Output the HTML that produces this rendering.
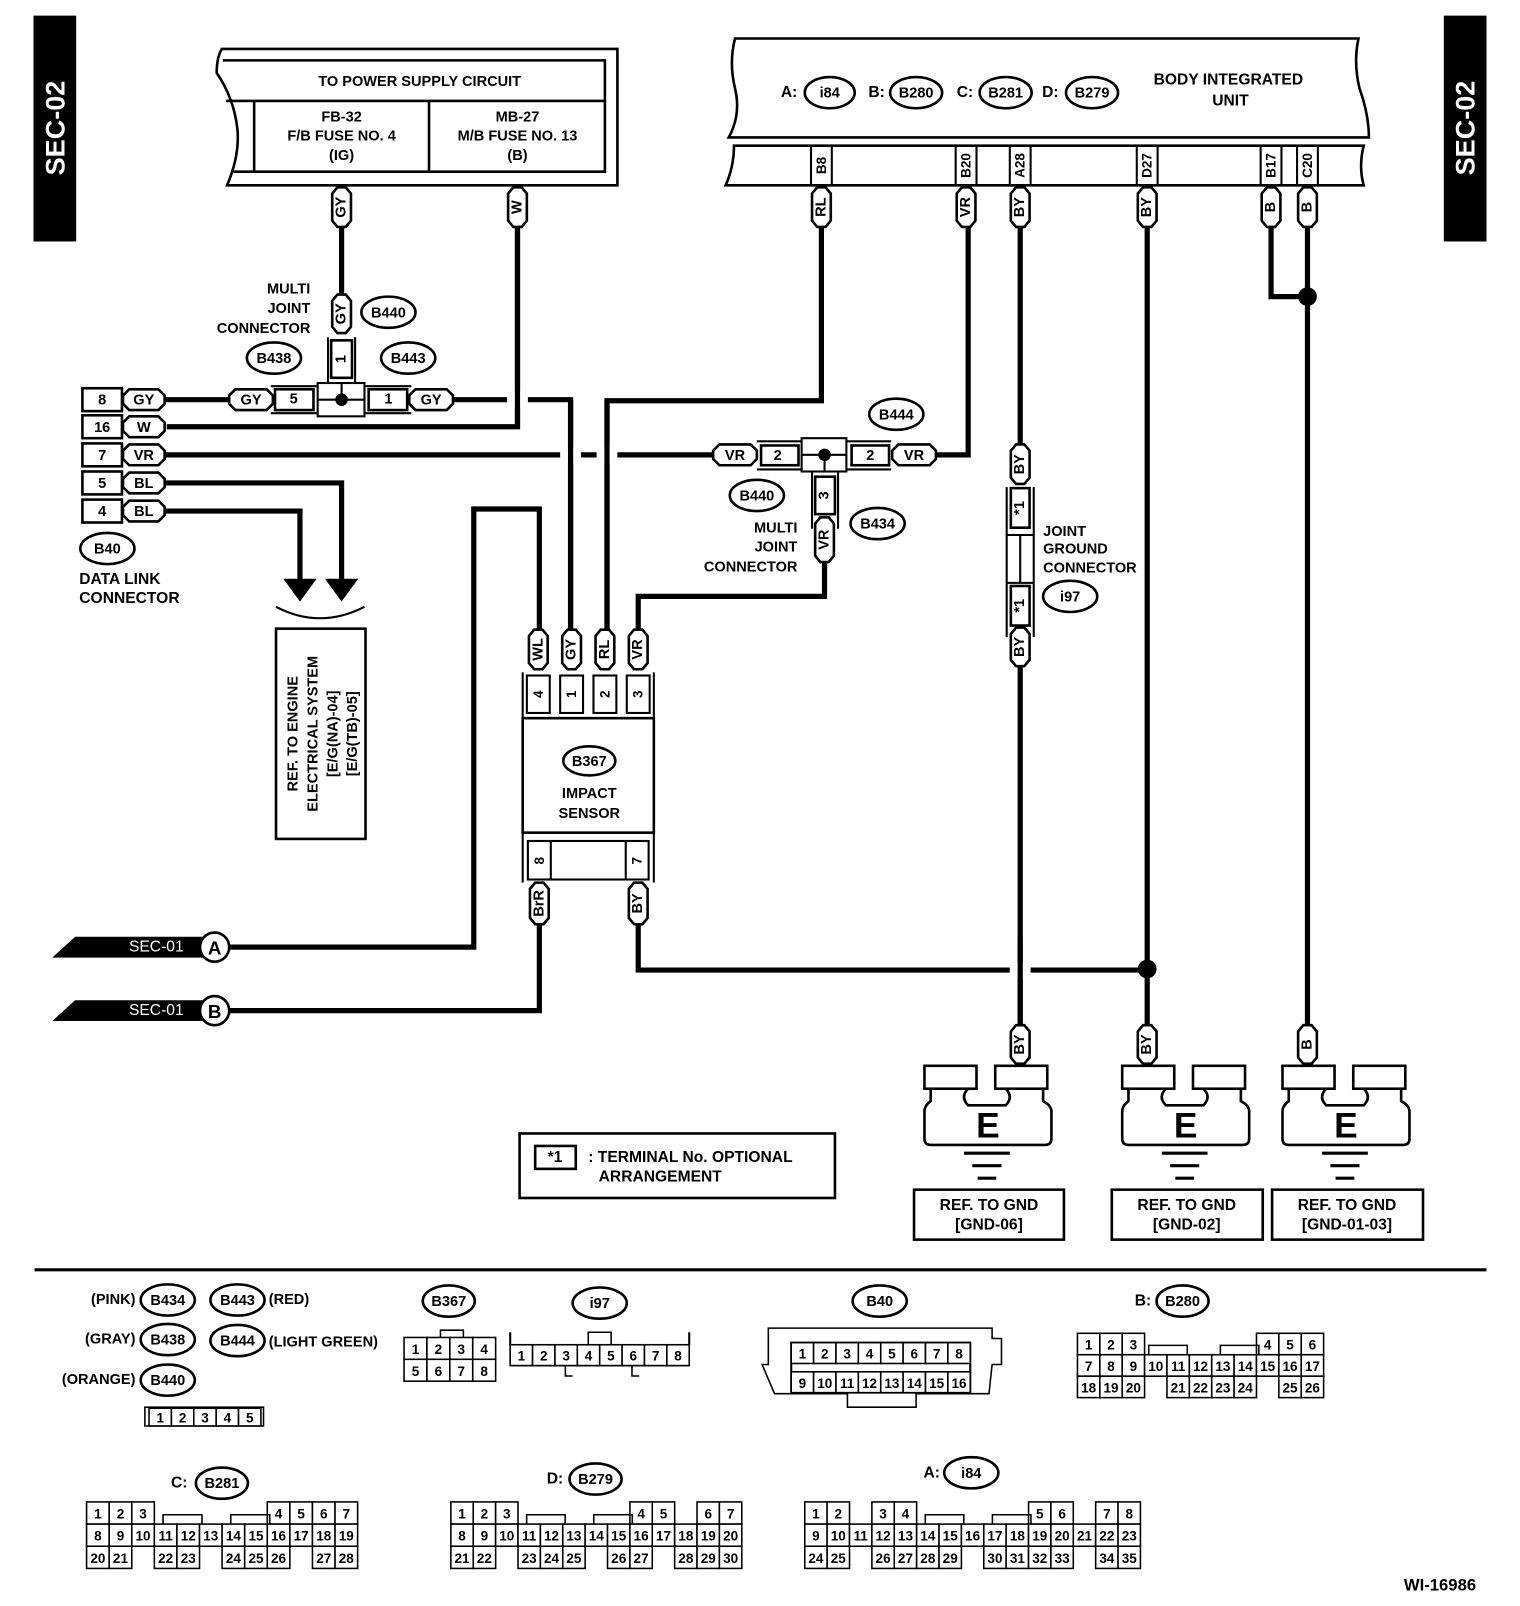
<!DOCTYPE html>
<html><head><meta charset="utf-8"><style>
html,body{margin:0;padding:0;background:#fff}
svg{display:block}
text{font-family:"Liberation Sans",sans-serif;font-weight:bold;fill:#000}
</style></head><body>
<svg id="s" xmlns="http://www.w3.org/2000/svg" width="1520" height="1606" viewBox="0 0 1460 1543"></svg>
<script>
const S=document.getElementById('s');const NS='http://www.w3.org/2000/svg';
function el(t,a,txt){const e=document.createElementNS(NS,t);for(const k in a)e.setAttribute(k,a[k]);if(txt!==undefined)e.textContent=txt;S.appendChild(e);return e;}
function T(x,y,s,size,anchor,rot,extra){const a={x:x,y:y,'font-size':size||14,'text-anchor':anchor||'middle','dominant-baseline':'central'};if(rot)a.transform=`rotate(${rot} ${x} ${y})`;if(extra)Object.assign(a,extra);return el('text',a,s);}
function R(x,y,w,h,sw,fill,rx){return el('rect',{x:x,y:y,width:w,height:h,fill:fill||'#fff',stroke:'#000','stroke-width':sw||2,rx:rx||0});}
function L(pts,w,c){return el('polyline',{points:pts.map(p=>p.join(',')).join(' '),fill:'none',stroke:c||'#000','stroke-width':w||5,'stroke-linejoin':'miter'});}
function vpill(x,y1,y2,s){el('path',{d:`M${x-9},${y1+6} L${x-4},${y1} L${x+4},${y1} L${x+9},${y1+6} L${x+9},${y2-6} L${x+4},${y2} L${x-4},${y2} L${x-9},${y2-6} Z`,fill:'#fff',stroke:'#000','stroke-width':2.5});T(x,(y1+y2)/2,s,14,'middle',-90);}
function hpill(x1,x2,y,s){el('path',{d:`M${x1+6},${y-10} L${x2-6},${y-10} L${x2},${y-4} L${x2},${y+4} L${x2-6},${y+10} L${x1+6},${y+10} L${x1},${y+4} L${x1},${y-4} Z`,fill:'#fff',stroke:'#000','stroke-width':2.5});T((x1+x2)/2,y+1,s,14);}
function E(cx,cy,s,rx,ry){el('ellipse',{cx:cx,cy:cy,rx:rx||26,ry:ry||15,fill:'#fff',stroke:'#000','stroke-width':2.5});T(cx,cy+1,s,14);}
function gap(x,y,w,h){el('rect',{x:x,y:y,width:w,height:h,fill:'#fff'});}

R(33,16,39,215,0,'#000');T(53,123,'SEC-02',26,'middle',-90,{style:'fill:#fff'});
R(1388,16,39,215,0,'#000');T(1408,123,'SEC-02',26,'middle',-90,{style:'fill:#fff'});

el('path',{d:'M213,47 L593,47 L593,178 L218,178 Q230,150 228,125 Q225,95 208,70 Q208,55 213,47 Z',fill:'#fff',stroke:'#000','stroke-width':2.5});
L([[214,58],[581,58],[581,165],[224,165]],2.5);
L([[217,97],[581,97]],2.5);L([[244,97],[244,165]],2.5);L([[412,97],[412,165]],2.5);
T(403,79,'TO POWER SUPPLY CIRCUIT',14);
T(328,113,'FB-32',14);T(328,131,'F/B FUSE NO. 4',14);T(328,150,'(IG)',14);
T(497,113,'MB-27',14);T(497,131,'M/B FUSE NO. 13',14);T(497,150,'(B)',14);

el('path',{d:'M706,37 L1305,37 Q1300,60 1306,85 Q1315,110 1315,132 L700,132 Q712,110 706,85 Q700,60 706,37 Z',fill:'#fff',stroke:'#000','stroke-width':2.5});
el('path',{d:'M705,140 L1310,140 Q1305,160 1310,178 L697,178 Q705,160 705,140 Z',fill:'#fff',stroke:'#000','stroke-width':2.5});
T(758,89,'A:',15);E(797,89,'i84',24,15);T(842,89,'B:',15);E(880,89,'B280',25,15);T(927,89,'C:',15);E(966,89,'B281',25,15);T(1009,89,'D:',15);E(1049,89,'B279',25,15);
T(1180,77,'BODY INTEGRATED',15);T(1182,97,'UNIT',15);
[[789,'B8'],[928,'B20'],[980,'A28'],[1102,'D27'],[1221,'B17'],[1256,'C20']].forEach(p=>{L([[p[0]-10,140],[p[0]-10,178]],2);L([[p[0]+10,140],[p[0]+10,178]],2);T(p[0],159,p[1],13,'middle',-90);});

L([[328,218],[328,283]]);
L([[497,218],[497,410],[160,410]]);
L([[158,384],[220,384]]);L([[435,384],[548,384],[548,605]]);gap(487,376,20,16);L([[497,218],[497,412]]);
L([[158,437],[685,437]]);
L([[789,218],[789,385],[583,385],[583,605]]);
gap(538,429,20,16);gap(573,429,20,16);L([[548,384],[548,605]]);L([[583,385],[583,605]]);
L([[899,437],[930,437],[930,218]]);
L([[792,540],[792,573],[613,573],[613,605]]);
L([[158,464],[328,464],[328,558]]);L([[158,491],[288,491],[288,558]]);
el('polygon',{points:'272,556 304,556 288,578',fill:'#000'});el('polygon',{points:'312,556 344,556 328,578'});
el('path',{d:'M265,583 Q307,605 350,583',fill:'none',stroke:'#000','stroke-width':2});
L([[220,910],[455,910],[455,489],[518,489],[518,605]]);
L([[220,971],[518,971],[518,888]]);
L([[613,888],[613,932],[1102,932]]);
L([[980,218],[980,427]]);L([[980,640],[980,985]]);gap(970,924,20,16);L([[980,900],[980,985]]);
L([[1102,218],[1102,985]]);el('circle',{cx:1102,cy:931,r:9,fill:'#000'});
L([[1221,218],[1221,285],[1256,285]]);L([[1256,218],[1256,985]]);el('circle',{cx:1256,cy:285,r:9,fill:'#000'});

vpill(328,180,218,'GY');vpill(497,180,218,'W');
[[789,'RL'],[928,'VR'],[980,'BY'],[1102,'BY'],[1221,'B'],[1256,'B']].forEach(p=>vpill(p[0],180,218,p[1]));

T(298,278,'MULTI',14,'end');T(298,297,'JOINT',14,'end');T(298,316,'CONNECTOR',14,'end');
vpill(328,283,320,'GY');E(373,300,'B440');E(263,344,'B438');E(392,344,'B443');
L([[315,324],[315,368]],2);L([[341,324],[341,368]],2);R(318,327,20,36,2.5);T(328,345,'1',14,'middle',-90);
L([[260,371],[304,371]],2);L([[260,397],[304,397]],2);R(264,374,37,20,2.5);T(282,384,'5',14);
R(305,368,45,32,2);L([[305,384],[350,384]],2);L([[328,368],[328,384]],2);el('circle',{cx:328,cy:384,r:6,fill:'#000'});
L([[350,371],[395,371]],2);L([[350,397],[395,397]],2);R(354,374,37,20,2.5);T(373,384,'1',14);
hpill(220,262,384,'GY');hpill(393,435,384,'GY');

[[384,'8','GY'],[410,'16','W'],[437,'7','VR'],[464,'5','BL'],[491,'4','BL']].forEach(p=>{R(79,p[0]-11,38,22,2.5);T(98,p[0]+1,p[1],14);hpill(118,158,p[0],p[2]);});
E(103,527,'B40',26,15);T(76,557,'DATA LINK',15,'start');T(76,575,'CONNECTOR',15,'start');
R(265,604,86,202,2.5);
['REF. TO ENGINE','ELECTRICAL SYSTEM','[E/G(NA)-04]','[E/G(TB)-05]'].forEach((s,i)=>T(282+i*19,705,s,14,'middle',-90));

L([[727,424],[770,424]],2);L([[727,451],[770,451]],2);R(731,428,36,19,2.5);T(747,438,'2',14);
R(770,421,43,32,2);L([[770,437],[813,437]],2);L([[792,437],[792,453]],2);el('circle',{cx:792,cy:437,r:6,fill:'#000'});
L([[813,424],[856,424]],2);L([[813,451],[856,451]],2);R(818,428,36,19,2.5);T(836,438,'2',14);
hpill(685,727,437,'VR');hpill(857,899,437,'VR');
L([[780,454],[780,508]],2);L([[805,454],[805,508]],2);R(783,458,19,36,2.5);T(792,476,'3',14,'middle',-90);
vpill(792,497,540,'VR');
E(861,398,'B444');E(727,476,'B440');E(843,503,'B434');
T(766,508,'MULTI',14,'end');T(766,526,'JOINT',14,'end');T(766,545,'CONNECTOR',14,'end');

vpill(980,427,465,'BY');L([[967,468],[967,612]],2);L([[993,468],[993,612]],2);
R(971,469,18,38,2.5);T(980,488,'*1',14,'middle',-90);L([[967,514],[993,514]],2);L([[980,514],[980,560]],2);L([[967,560],[993,560]],2);
R(971,563,18,38,2.5);T(980,582,'*1',14,'middle',-90);vpill(980,603,640,'BY');
T(1002,511,'JOINT',14,'start');T(1002,528,'GROUND',14,'start');T(1002,546,'CONNECTOR',14,'start');E(1028,573,'i97',26,15);

[[517,'WL'],[549,'GY'],[581,'RL'],[613,'VR']].forEach(p=>vpill(p[0],605,643,p[1]));
L([[502,646],[502,690]],2);L([[628,646],[628,690]],2);
[[517,'4'],[549,'1'],[581,'2'],[613,'3']].forEach(p=>{R(p[0]-11,649,22,36,2);T(p[0],667,p[1],13,'middle',-90);});
R(502,690,126,110,2.5);E(566,731,'B367',25,14);T(566,763,'IMPACT',14);T(566,782,'SENSOR',14);
L([[502,800],[502,848]],2);L([[628,800],[628,848]],2);R(507,808,116,37,2);L([[529,808],[529,845]],2);L([[601,808],[601,845]],2);
T(518,827,'8',13,'middle',-90);T(612,827,'7',13,'middle',-90);
vpill(518,848,888,'BrR');vpill(613,848,888,'BY');

[[910,'A'],[971,'B']].forEach(p=>{el('polygon',{points:`72,${p[0]-10} 196,${p[0]-10} 196,${p[0]+10} 50,${p[0]+10}`,fill:'#000'});T(150,p[0],'SEC-01',15,'middle',0,{style:'fill:#fff;font-weight:normal'});el('circle',{cx:206,cy:p[0],r:14,fill:'#fff',stroke:'#000','stroke-width':2.5});T(206,p[0]+1,p[1],18);});

[[948,'BY','[GND-06]',878],[1138,'BY','[GND-02]',1068],[1292,'B','[GND-01-03]',1222]].forEach((g,i)=>{
 const cx=g[0];const wx=[980,1102,1256][i];
 R(cx-60,1024,50,22,2.5);R(cx+8,1024,50,22,2.5);
 el('path',{d:`M${cx-54},1046 L${cx-54},1058 Q${cx-60},1062 ${cx-60},1068 L${cx-60},1094 Q${cx-60},1100 ${cx-54},1100 L${cx+56},1100 Q${cx+62},1100 ${cx+62},1094 L${cx+62},1068 Q${cx+62},1062 ${cx+54},1058 L${cx+54},1046 M${cx-18},1046 Q${cx-26},1054 ${cx-18},1062 L${cx+18},1062 Q${cx+26},1054 ${cx+18},1046 M${cx+54},1058 L${cx+54},1046`,fill:'none',stroke:'#000','stroke-width':2.5});
 T(cx+1,1082,'E',34,'middle',0,{'font-weight':'bold'});
 L([[cx-22,1108],[cx+22,1108]],3);L([[cx-14,1120],[cx+14,1120]],3);L([[cx-9,1132],[cx+9,1132]],3);
 vpill(wx,985,1022,g[1]);
 R(g[3],1143,i==0?144:145,48,2.5);T(g[3]+72,1158,'REF. TO GND',15);T(g[3]+72,1177,g[2],15);
});
R(499,1089,303,62,2.5);R(514,1101,39,22,2.5);T(533,1112,'*1',15);T(565,1112,': TERMINAL No. OPTIONAL',15,'start');T(575,1131,'ARRANGEMENT',15,'start');
L([[33,1220],[1428,1220]],3);

T(130,1249,'(PINK)',14,'end');E(161,1249,'B434');E(228,1249,'B443');T(258,1249,'(RED)',14,'start');
T(130,1287,'(GRAY)',14,'end');E(161,1287,'B438');E(228,1288,'B444');T(258,1290,'(LIGHT GREEN)',14,'start');
T(130,1326,'(ORANGE)',14,'end');E(161,1326,'B440');
function cells(x,y,w,h,labels){labels.forEach((s,i)=>{if(s===null)return;R(x+i*w,y,w,h,1.5);T(x+i*w+w/2,y+h/2+1,s,13,'middle',0,{'font-weight':'normal'});});}
R(139,1352,114,18,1.5);cells(143,1353,21.5,17,['1','2','3','4','5']);
E(431,1250,'B367',25,15);L([[423,1285],[423,1278],[445,1278],[445,1285]],1.5);cells(388,1285,22,21,['1','2','3','4']);cells(388,1306,22,21,['5','6','7','8']);
E(576,1252,'i97',26,15);R(490,1292,172,20,1.5);L([[490,1280],[490,1292]],2);L([[662,1280],[662,1292]],2);L([[565,1292],[565,1280],[587,1280],[587,1292]],1.5);
cells(490,1292,21.5,20,['1','2','3','4','5','6','7','8']);L([[543,1312],[543,1322],[550,1322]],1.5);L([[607,1312],[607,1322],[614,1322]],1.5);
E(845,1250,'B40',26,15);
el('path',{d:'M738,1276 L953,1276 L953,1286 L962,1286 L962,1311 L953,1311 L950,1339 L880,1339 L880,1352 L814,1352 L814,1339 L744,1339 L732,1311 L738,1311 Z',fill:'#fff',stroke:'#000','stroke-width':1.5});
R(760,1290,172,48,2);cells(760,1290,21.5,20,['1','2','3','4','5','6','7','8']);cells(760,1318,21.5,20,['9','10','11','12','13','14','15','16']);

function grid(x,y,w,h,rows,bumps){rows.forEach((r,ri)=>{r.forEach((s,ci)=>{if(s===null||s==='')return;R(x+ci*w,y+ri*h,w,h,1.5);T(x+ci*w+w/2,y+ri*h+h/2+1,s,13,'middle',0,{'font-weight':'normal'});});});bumps.forEach(b=>{L([[x+b*w+4,y+h],[x+b*w+4,y+h-9],[x+b*w+w*2-2,y+h-9],[x+b*w+w*2-2,y+h]],1.5);});}
function seq(a,b){const r=[];for(let i=a;i<=b;i++)r.push(''+i);return r;}
function place(n,map){const r=new Array(n).fill(null);for(const k in map)r[k]=map[k];return r;}
T(1098,1250,'B:',15);E(1136,1250,'B280',25,15);
grid(1035,1281,21.5,20.6,[place(11,{0:'1',1:'2',2:'3',8:'4',9:'5',10:'6'}),seq(7,17),place(11,{0:'18',1:'19',2:'20',4:'21',5:'22',6:'23',7:'24',9:'25',10:'26'})],[3,6.2]);
T(172,1425,'C:',15);E(213,1425,'B281',25,15);
grid(83,1443,21.7,21.3,[place(12,{0:'1',1:'2',2:'3',8:'4',9:'5',10:'6',11:'7'}),seq(8,19),place(12,{0:'20',1:'21',3:'22',4:'23',6:'24',7:'25',8:'26',10:'27',11:'28'})],[3.2,6.2]);
T(533,1421,'D:',15);E(572,1421,'B279',25,15);
grid(433,1443,21.5,21.3,[place(13,{0:'1',1:'2',2:'3',8:'4',9:'5',11:'6',12:'7'}),seq(8,20),place(13,{0:'21',1:'22',3:'23',4:'24',5:'25',7:'26',8:'27',10:'28',11:'29',12:'30'})],[3.2,6.2]);
T(895,1415,'A:',15);E(933,1415,'i84',26,15);
grid(773,1443,21.5,21.3,[place(15,{0:'1',1:'2',3:'3',4:'4',10:'5',11:'6',13:'7',14:'8'}),seq(9,23),place(15,{0:'24',1:'25',3:'26',4:'27',5:'28',6:'29',8:'30',9:'31',10:'32',11:'33',13:'34',14:'35'})],[5.2,8.2]);
T(1418,1523,'WI-16986',16,'end',0,{'font-weight':'normal'});
</script>
</body></html>
